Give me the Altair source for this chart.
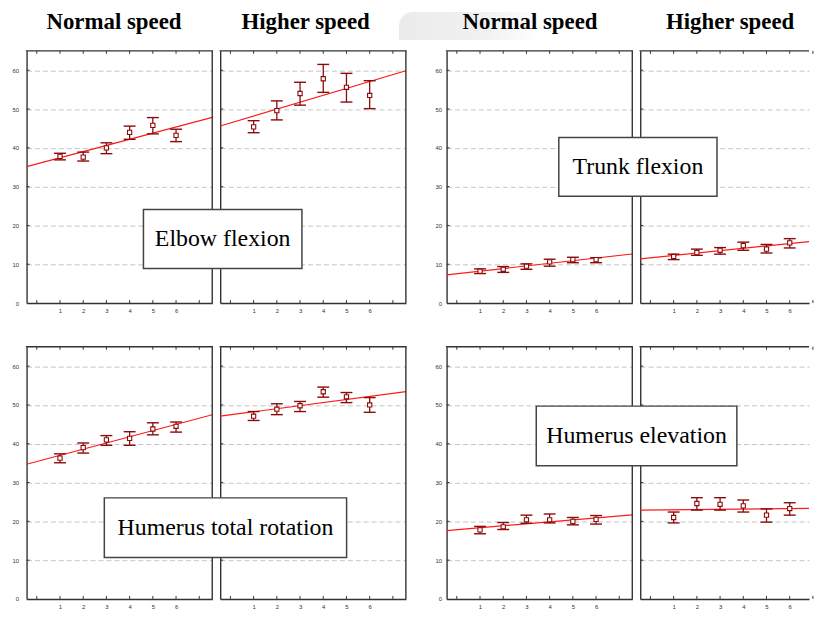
import altair as alt
import pandas as pd

# ---------------- data ----------------
sessions = [1, 2, 3, 4, 5, 6]

elbow_normal_mean = [37.8, 37.6, 40.0, 44.0, 45.8, 43.2]
elbow_normal_lo = [36.9, 36.6, 38.5, 42.2, 43.6, 41.6]
elbow_normal_hi = [38.6, 38.9, 41.3, 45.6, 47.8, 44.8]
elbow_higher_mean = [45.4, 49.6, 54.0, 57.8, 55.6, 53.5]
elbow_higher_lo = [43.9, 47.2, 51.0, 54.3, 51.8, 50.1]
elbow_higher_hi = [47.0, 52.1, 56.9, 61.5, 59.2, 57.3]

trunk_normal_mean = [8.2, 8.7, 9.5, 10.6, 11.2, 11.2]
trunk_normal_lo = [7.6, 7.9, 8.7, 9.5, 10.4, 10.4]
trunk_normal_hi = [8.8, 9.4, 10.1, 11.3, 11.8, 11.7]
trunk_higher_mean = [12.0, 13.0, 13.6, 14.8, 13.9, 15.5]
trunk_higher_lo = [11.2, 12.3, 12.6, 13.6, 12.9, 14.2]
trunk_higher_hi = [12.6, 13.9, 14.3, 15.7, 15.1, 16.6]

rotation_normal_mean = [36.3, 39.0, 41.0, 41.4, 43.8, 44.5]
rotation_normal_lo = [35.1, 37.6, 39.6, 39.6, 42.3, 43.0]
rotation_normal_hi = [37.4, 40.2, 42.1, 43.1, 45.4, 45.6]
rotation_higher_mean = [47.1, 48.9, 49.8, 53.4, 52.1, 50.0]
rotation_higher_lo = [46.0, 47.5, 48.3, 52.0, 50.6, 48.1]
rotation_higher_hi = [48.3, 50.3, 50.9, 54.6, 53.2, 51.9]

elevation_normal_mean = [17.8, 18.6, 20.4, 20.4, 20.0, 20.5]
elevation_normal_lo = [16.8, 17.9, 19.5, 19.6, 19.1, 19.3]
elevation_normal_hi = [18.7, 19.7, 21.6, 21.9, 21.0, 21.5]
elevation_higher_mean = [21.0, 24.6, 24.4, 24.0, 21.6, 23.3]
elevation_higher_lo = [19.6, 22.9, 22.9, 22.4, 19.8, 21.6]
elevation_higher_hi = [22.4, 26.1, 26.1, 25.5, 23.2, 24.8]

column_titles = ["Normal speed", "Higher speed"]
joint_labels = {
    "elbow": "Elbow flexion",
    "trunk": "Trunk flexion",
    "rotation": "Humerus total rotation",
    "elevation": "Humerus elevation",
}
x_tick_labels = [1, 2, 3, 4, 5, 6]
x_tick_marks = [0, 1, 2, 3, 4, 5, 6, 7]
y_tick_values = [0, 10, 20, 30, 40, 50, 60]

series = {
    ("elbow", "normal"): (elbow_normal_mean, elbow_normal_lo, elbow_normal_hi),
    ("elbow", "higher"): (elbow_higher_mean, elbow_higher_lo, elbow_higher_hi),
    ("trunk", "normal"): (trunk_normal_mean, trunk_normal_lo, trunk_normal_hi),
    ("trunk", "higher"): (trunk_higher_mean, trunk_higher_lo, trunk_higher_hi),
    ("rotation", "normal"): (rotation_normal_mean, rotation_normal_lo, rotation_normal_hi),
    ("rotation", "higher"): (rotation_higher_mean, rotation_higher_lo, rotation_higher_hi),
    ("elevation", "normal"): (elevation_normal_mean, elevation_normal_lo, elevation_normal_hi),
    ("elevation", "higher"): (elevation_higher_mean, elevation_higher_lo, elevation_higher_hi),
}

rows = []
for (joint, speed), (m, lo, hi) in series.items():
    for s, a, b, c in zip(sessions, m, lo, hi):
        rows.append({"joint": joint, "speed": speed, "x": s, "mean": a, "lo": b, "hi": c})
df = pd.DataFrame(rows)

# ---------------- styling ----------------
SANS = "Liberation Sans"
SERIF = "Liberation Serif"
BORDER = "#333333"
DARK = "#8b0a0a"
RED = "#ff1a1a"
GRID = "#c4c4c4"

W = 187          # panel width
H = 254          # panel height
W_LAST = 170     # right-most panels are cut by the page edge
X0 = -0.44
PXU = W / 8.0    # pixels per x unit

one = pd.DataFrame({"a": [0]})
ticks_x_df = pd.DataFrame({"t": x_tick_marks})
ticks_y_df = pd.DataFrame({"v": y_tick_values[1:]})


def panel(joint, speed, width, show_labels, lab_pad, truncated, title, title_dx,
          box=None, swoosh=False):
    d = df[(df.joint == joint) & (df.speed == speed)]
    x1 = X0 + width / PXU
    xs = alt.Scale(domain=[X0, x1], nice=False, zero=False)
    ys = alt.Scale(domain=[0, 65], nice=False, zero=False)
    xax = alt.Axis(values=x_tick_labels, labelFontSize=6, labelFont=SANS, labelColor="#333",
                   labelPadding=5, ticks=False, domain=True, domainColor=BORDER,
                   domainWidth=1.4, grid=False, title=None)
    yax = alt.Axis(values=y_tick_values, labels=show_labels, labelFontSize=6, labelFont=SANS,
                   labelColor="#333", labelPadding=lab_pad, ticks=False, domain=True,
                   domainColor=BORDER, domainWidth=1.4, grid=True, gridColor=GRID,
                   gridDash=[5, 3], gridWidth=1, title=None)

    def X(f):
        return alt.X(f, scale=xs, axis=xax)

    def Y(f):
        return alt.Y(f, scale=ys, axis=yax)

    layers = []
    if swoosh:
        # faint grey background blot behind the column heading
        layers.append(alt.Chart(one).mark_rect(
            fill=alt.Gradient(gradient="linear", x1=0, x2=1, y1=0, y2=0,
                              stops=[alt.GradientStop(offset=0, color="#ebebeb"),
                                     alt.GradientStop(offset=0.6, color="#f1f1f1"),
                                     alt.GradientStop(offset=1, color="#ffffff")]),
            cornerRadiusTopLeft=34).encode(
            x=alt.value(-48), x2=alt.value(95), y=alt.value(-39), y2=alt.value(-11)))

    base = alt.Chart(d)
    reg = base.transform_regression("x", "mean", extent=[X0, x1]).mark_line(
        color=RED, strokeWidth=1.2).encode(x=X("x:Q"), y=Y("mean:Q"))
    bars = base.mark_rule(color=DARK, strokeWidth=1.3).encode(x=X("x:Q"), y=Y("lo:Q"), y2="hi:Q")
    cap_lo = base.mark_tick(orient="horizontal", color=DARK, thickness=1.4, size=12, opacity=1).encode(
        x=X("x:Q"), y=Y("lo:Q"))
    cap_hi = base.mark_tick(orient="horizontal", color=DARK, thickness=1.4, size=12, opacity=1).encode(
        x=X("x:Q"), y=Y("hi:Q"))
    pts = base.mark_point(shape="square", filled=True, fill="white", stroke=DARK,
                          strokeWidth=1.1, size=18, opacity=1).encode(x=X("x:Q"), y=Y("mean:Q"))

    tk = alt.Chart(ticks_x_df)
    top_ticks = tk.mark_rule(color=BORDER, strokeWidth=1).encode(
        x=X("t:Q"), y=alt.value(0), y2=alt.value(3))
    bot_ticks = tk.mark_rule(color=BORDER, strokeWidth=1).encode(
        x=X("t:Q"), y=alt.value(H - 3), y2=alt.value(H))
    left_ticks = alt.Chart(ticks_y_df).mark_rule(color=BORDER, strokeWidth=1).encode(
        y=Y("v:Q"), x=alt.value(0), x2=alt.value(3))

    # frame: top edge always, right edge unless the panel runs off the page
    top_edge = alt.Chart(one).mark_rule(color=BORDER, strokeWidth=1.4).encode(
        x=alt.value(-0.7), x2=alt.value(width + (0 if truncated else 0.7)), y=alt.value(0))
    layers += [reg, bars, cap_lo, cap_hi, pts, top_ticks, bot_ticks, left_ticks, top_edge]
    if not truncated:
        layers.append(alt.Chart(one).mark_rule(color=BORDER, strokeWidth=1.4).encode(
            x=alt.value(width), y=alt.value(0), y2=alt.value(H)))

    if title:
        layers.append(alt.Chart(one).mark_text(
            text=title, font=SERIF, fontSize=23, fontWeight="bold", align="center",
            baseline="alphabetic", color="black").encode(
            x=alt.value(width / 2 + title_dx), y=alt.value(-21.8)))

    if box:
        bx0, bx1, by0, by1 = box
        layers.append(alt.Chart(one).mark_rect(fill="white", stroke="#444", strokeWidth=1.5).encode(
            x=alt.value(bx0), x2=alt.value(bx1), y=alt.value(by0), y2=alt.value(by1)))
        layers.append(alt.Chart(one).mark_text(
            text=joint_labels[joint], font=SERIF, fontSize=24, align="center",
            baseline="alphabetic", color="black").encode(
            x=alt.value((bx0 + bx1) / 2), y=alt.value((by0 + by1) / 2 + 7.3)))

    return alt.layer(*layers).properties(width=width, height=H)


def spacer():
    return alt.Chart(one).mark_text(text="", opacity=0).encode(
        x=alt.value(0), y=alt.value(H / 2)).properties(width=25, height=H)


cells = [
    panel("elbow", "normal", W, True, 8, False, column_titles[0], -5.5),
    panel("elbow", "higher", W, False, 8, False, column_titles[1], -7.5,
          box=(-77.3, 82.3, 159.8, 219.2)),
    spacer(),
    panel("trunk", "normal", W, True, 5, False, column_titles[0], -9.5, swoosh=True),
    panel("trunk", "higher", W_LAST, False, 5, True, column_titles[1], 5.5,
          box=(-82.0, 77.3, 87.2, 146.5)),
    panel("rotation", "normal", W, True, 8, False, None, 0),
    panel("rotation", "higher", W, False, 8, False, None, 0,
          box=(-116.7, 127.3, 152.2, 212.2)),
    spacer(),
    panel("elevation", "normal", W, True, 5, False, None, 0),
    panel("elevation", "higher", W_LAST, False, 5, True, None, 0,
          box=(-104.7, 97.3, 59.8, 119.8)),
]

chart = alt.concat(*cells, columns=5, spacing={"row": 44, "column": 8}, bounds="flush").properties(
    padding={"left": 2.7, "top": 0, "right": 0, "bottom": 0}
).configure_view(stroke="transparent")

chart.save("out.html", embed_options={"renderer": "svg", "actions": False})
